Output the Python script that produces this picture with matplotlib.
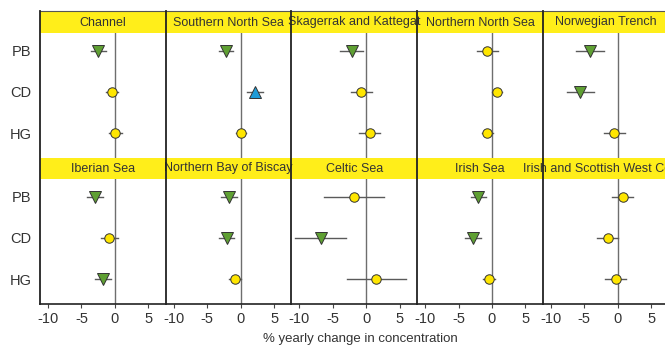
import matplotlib

matplotlib.use("Agg")
import matplotlib.pyplot as plt
from matplotlib.lines import Line2D
from matplotlib.patches import Rectangle

# Regions in panel order (row by row), contaminants on the y axis
REGIONS = [
    "Channel", "Southern North Sea", "Skagerrak and Kattegat", "Northern North Sea", "Norwegian Trench",
    "Iberian Sea", "Northern Bay of Biscay", "Celtic Sea", "Irish Sea", "Irish and Scottish West Coast",
]
CONTAMINANTS = ["PB", "CD", "HG"]

# % yearly change: estimate, lower and upper bound, per region for PB, CD, HG
CHANGE = [
    [-2.6, -0.5, 0.0],
    [-2.2, 2.1, 0.05],
    [-2.2, -0.75, 0.5],
    [-0.7, 0.7, -0.7],
    [-4.2, -5.6, -0.55],
    [-2.9, -0.9, -1.75],
    [-1.75, -2.05, -0.85],
    [-1.9, -6.8, 1.5],
    [-2.05, -2.8, -0.4],
    [0.75, -1.5, -0.3],
]
LOWER = [
    [-3.6, -1.3, -0.9],
    [-3.3, 1.0, -0.7],
    [-4.0, -2.3, -1.1],
    [-2.3, -0.05, -1.5],
    [-6.2, -7.6, -2.1],
    [-4.1, -2.1, -2.9],
    [-2.9, -3.2, -1.8],
    [-6.3, -10.7, -2.9],
    [-3.2, -4.0, -1.3],
    [-0.85, -3.1, -1.95],
]
UPPER = [
    [-1.3, 0.4, 1.0],
    [-1.1, 3.4, 0.8],
    [-0.5, 0.9, 2.1],
    [0.85, 1.45, 0.2],
    [-2.1, -3.5, 1.15],
    [-1.8, 0.4, -0.65],
    [-0.6, -0.95, 0.05],
    [2.6, -3.0, 6.0],
    [-0.9, -1.65, 0.5],
    [2.3, 0.0, 1.3],
]
# Trend classification: down = significant decrease, up = significant increase, none = no trend
TREND = [
    ["down", "none", "none"],
    ["down", "up", "none"],
    ["down", "none", "none"],
    ["none", "none", "none"],
    ["down", "down", "none"],
    ["down", "none", "down"],
    ["down", "down", "none"],
    ["none", "down", "none"],
    ["down", "down", "none"],
    ["none", "none", "none"],
]
X_TICKS = [-10, -5, 0, 5]

MARKERS = {
    "down": dict(marker="v", color="#5FA033", size=8.0),
    "up": dict(marker="^", color="#1E9BD7", size=8.0),
    "none": dict(marker="o", color="#FFE600", size=6.8),
}
HEADER_COLOR = "#FFEE1A"
TEXT_COLOR = "#333333"

plt.rcParams["font.family"] = ["Liberation Sans", "DejaVu Sans"]

W, H = 665, 345
fig = plt.figure(figsize=(W / 100, H / 100), dpi=100)

PANEL_LEFT = 40.0
PANEL_W = 125.7
ROWS = [(33, 158), (179, 304)]  # plot area top/bottom in pixels
HEADER_H = 22


def fx(px):
    return px / W


def fy(py):
    return 1 - py / H


for i, region in enumerate(REGIONS):
    row, col = divmod(i, 5)
    top, bottom = ROWS[row]
    left = PANEL_LEFT + col * PANEL_W
    ax = fig.add_axes([fx(left), fy(bottom), PANEL_W / W, (bottom - top) / H])
    ax.set_xlim(-11.2, 7.6)
    ax.set_ylim(2.6, -0.43)
    ax.axvline(0, color="#6E6E6E", linewidth=1.0, zorder=1)

    for j in range(len(CONTAMINANTS)):
        style = MARKERS[TREND[i][j]]
        ax.plot([LOWER[i][j], UPPER[i][j]], [j, j], color="#5A5A5A", linewidth=1.0, zorder=2)
        ax.plot(CHANGE[i][j], j, linestyle="none", marker=style["marker"],
                markersize=style["size"], markerfacecolor=style["color"],
                markeredgecolor="#333333", markeredgewidth=0.7, zorder=3)

    for side in ("top", "right", "left"):
        ax.spines[side].set_visible(False)
    ax.set_yticks(range(len(CONTAMINANTS)))
    if col == 0:
        ax.set_yticklabels(CONTAMINANTS, fontsize=10.5, color=TEXT_COLOR)
    else:
        ax.set_yticklabels([])
    ax.tick_params(axis="y", length=0, pad=6)

    ax.set_xticks(X_TICKS)
    if row == 1:
        ax.spines["bottom"].set_color("#222222")
        ax.spines["bottom"].set_linewidth(1.2)
        ax.set_xticklabels([str(t) for t in X_TICKS], fontsize=10.5, color=TEXT_COLOR)
        ax.tick_params(axis="x", direction="out", length=3, width=0.8, colors="#444444",
                       labelcolor=TEXT_COLOR, pad=3)
    else:
        ax.spines["bottom"].set_visible(False)
        ax.tick_params(axis="x", length=0, labelbottom=False)

    # yellow title band above each panel
    hdr_top = top - HEADER_H
    fig.add_artist(Rectangle((fx(left), fy(top)), PANEL_W / W, HEADER_H / H,
                             transform=fig.transFigure, facecolor=HEADER_COLOR,
                             edgecolor="none", zorder=0))
    fig.text(fx(left + PANEL_W / 2), fy(hdr_top + HEADER_H / 2 + 0.5), region,
             ha="center", va="center", fontsize=9, color=TEXT_COLOR, zorder=5)

# outer frame pieces and panel dividers
top_edge, bottom_edge = ROWS[0][0] - HEADER_H, ROWS[1][1]
fig.add_artist(Line2D([fx(PANEL_LEFT), 1], [fy(top_edge), fy(top_edge)],
                      color="#555555", linewidth=0.8, zorder=6))
for col in range(5):
    x = fx(PANEL_LEFT + col * PANEL_W)
    fig.add_artist(Line2D([x, x], [fy(top_edge), fy(bottom_edge)],
                          color="#222222", linewidth=1.3, zorder=6))

fig.text(fx(360), fy(339), "% yearly change in concentration", ha="center", va="center",
         fontsize=9.5, color=TEXT_COLOR)

fig.savefig("out.png", dpi=100, facecolor="white")
